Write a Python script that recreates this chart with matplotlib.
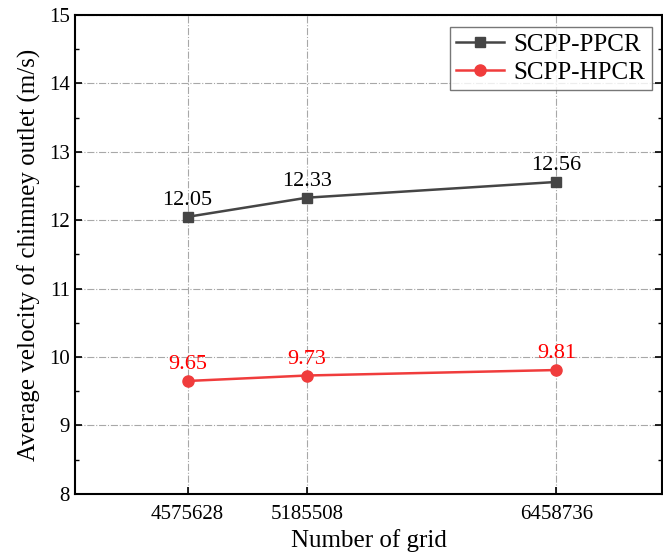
import matplotlib.pyplot as plt
from matplotlib.ticker import MultipleLocator

# data
grids = [4575628, 5185508, 6458736]
ppcr = [12.05, 12.33, 12.56]
hpcr = [9.65, 9.73, 9.81]

plt.rcParams['font.family'] = ['Liberation Serif', 'DejaVu Serif']

fig = plt.figure(figsize=(6.63, 5.58), dpi=100)
ax = fig.add_axes([0.113, 0.115, 0.886, 0.858])

c1 = '#454545'
c2 = '#f03c3c'
ax.plot(grids, ppcr, color=c1, marker='s', markersize=7, lw=1.8, label='SCPP-PPCR', zorder=3)
ax.plot(grids, hpcr, color=c2, marker='o', markersize=8, lw=1.8, label='SCPP-HPCR', zorder=3)

for x, y in zip(grids, ppcr):
    ax.annotate(f'{y:.2f}', (x, y), xytext=(0, 5), textcoords='offset points',
                ha='center', va='bottom', fontsize=16, color='black')
for x, y in zip(grids, hpcr):
    ax.annotate(f'{y:.2f}', (x, y), xytext=(0, 5), textcoords='offset points',
                ha='center', va='bottom', fontsize=16, color='red')

ax.set_xlim(4.0e6, 7.0e6)
ax.set_ylim(8, 15)
ax.set_xticks(grids)
ax.set_xticklabels([str(g) for g in grids])
ax.yaxis.set_major_locator(MultipleLocator(1))
ax.yaxis.set_minor_locator(MultipleLocator(0.5))
ax.tick_params(axis='both', which='both', direction='in', labelsize=15, right=True)
ax.tick_params(which='major', length=5, width=1.2)
ax.tick_params(which='minor', length=3, width=1.0)
ax.tick_params(axis='x', pad=8)

ax.grid(True, which='major', color='#a8a8a8', linestyle='-.', lw=0.8)
for s in ax.spines.values():
    s.set_linewidth(1.5)

ax.set_xlabel('Number of grid', fontsize=18, labelpad=4)
ax.set_ylabel('Average velocity of chimney outlet (m/s)', fontsize=18, labelpad=6)

ax.legend(loc='upper right', bbox_to_anchor=(0.995, 0.99), fontsize=18, frameon=True,
          fancybox=False, edgecolor='#555555', handlelength=1.9, borderpad=0.25,
          labelspacing=0.2, handletextpad=0.4, borderaxespad=0.3)

fig.savefig('out.png', dpi=100)
